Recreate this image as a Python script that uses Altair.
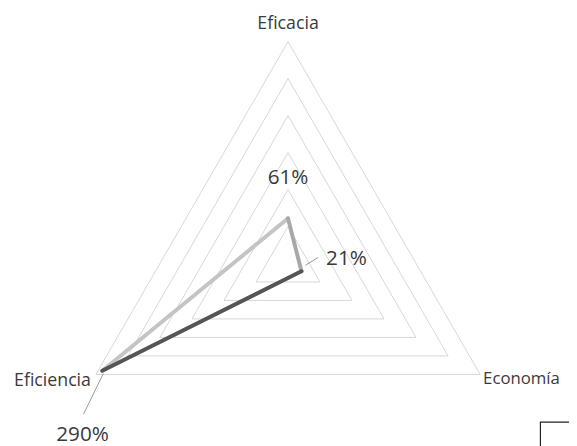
import altair as alt
import pandas as pd

# ---- data ----
axes = ["Eficacia", "Economía", "Eficiencia"]
values = [61, 21, 290]
value_labels = ["61%", "21%", "290%"]
levels = [50, 100, 150, 200, 250, 300]
max_level = 300

n = len(axes)

# grid triangles (closed)
grid_rows = []
for lv in levels:
    for k in range(n + 1):
        grid_rows.append({"level": lv, "ord": k, "idx": k % n})
grid_df = pd.DataFrame(grid_rows)

# data polygon as segments (Eficiencia -> Eficacia -> Economía -> Eficiencia)
seg_pairs = [(2, 0, "a"), (0, 1, "b"), (1, 2, "c")]
seg_df = pd.DataFrame([
    {"i1": a, "i2": b, "v1": values[a], "v2": values[b], "seg": s}
    for a, b, s in seg_pairs
])

pts_df = pd.DataFrame({"idx": list(range(n)), "axis": axes, "value": values, "label": value_labels})
ax_df = pd.DataFrame({"idx": list(range(n)), "axis": axes, "value": [max_level] * n})

W, H = 569, 438
CX, CY = 284, 256
X = alt.Scale(domain=[-CX / 0.75, (W - CX) / 0.75], nice=False, zero=False)
Y = alt.Scale(domain=[-(H - CY) / 0.75, CY / 0.75], nice=False, zero=False)

def polar(base, rfield, idxfield, xname, yname):
    return base.transform_calculate(
        **{xname: f"datum.{rfield} * sin(datum.{idxfield} * 2 * PI / {n})",
           yname: f"datum.{rfield} * cos(datum.{idxfield} * 2 * PI / {n})"}
    )

FONT = "Open Sans"
TXT = "#3a3a3a"

grid = polar(alt.Chart(grid_df), "level", "idx", "gx", "gy").mark_line(
    color="#d6d6d6", strokeWidth=1
).encode(
    x=alt.X("gx:Q", scale=X, axis=None),
    y=alt.Y("gy:Q", scale=Y, axis=None),
    detail="level:N",
    order="ord:O",
)

segs = alt.Chart(seg_df).transform_calculate(
    x1="datum.v1 * sin(datum.i1 * 2 * PI / 3)",
    y1="datum.v1 * cos(datum.i1 * 2 * PI / 3)",
    x2="datum.v2 * sin(datum.i2 * 2 * PI / 3)",
    y2="datum.v2 * cos(datum.i2 * 2 * PI / 3)",
).mark_rule(strokeWidth=4, strokeCap="round").encode(
    x=alt.X("x1:Q", scale=X, axis=None),
    y=alt.Y("y1:Q", scale=Y, axis=None),
    x2="x2:Q",
    y2="y2:Q",
    color=alt.Color("seg:N", scale=alt.Scale(domain=["a", "b", "c"],
                                               range=["#c4c4c4", "#a8a8a8", "#555555"]),
                    legend=None),
)

pts = polar(alt.Chart(pts_df), "value", "idx", "px", "py")
axl = polar(alt.Chart(ax_df), "value", "idx", "px", "py")

enc = dict(x=alt.X("px:Q", scale=X, axis=None), y=alt.Y("py:Q", scale=Y, axis=None))

# value labels
lab61 = pts.transform_filter("datum.idx == 0").mark_text(
    font=FONT, fontSize=21, color=TXT, dy=-41, align="center"
).encode(text="label:N", **enc)
lab21 = pts.transform_filter("datum.idx == 1").mark_text(
    font=FONT, fontSize=21, color=TXT, dx=25, dy=-12, align="left"
).encode(text="label:N", **enc)
lab290 = pts.transform_filter("datum.idx == 2").mark_text(
    font=FONT, fontSize=21, color=TXT, dx=-20, dy=65, align="center"
).encode(text="label:N", **enc)

# leader lines
lead21 = pts.transform_filter("datum.idx == 1").mark_rule(
    color="#999", strokeWidth=1, xOffset=4, yOffset=-6, x2Offset=17, y2Offset=-14
).encode(x2="px:Q", y2="py:Q", **enc)
lead290 = pts.transform_filter("datum.idx == 2").mark_rule(
    color="#999", strokeWidth=1, xOffset=1, yOffset=3, x2Offset=-19, y2Offset=44
).encode(x2="px:Q", y2="py:Q", **enc)

# axis (category) labels
cat0 = axl.transform_filter("datum.idx == 0").mark_text(
    font=FONT, fontSize=18, color=TXT, dy=-18, align="center"
).encode(text="axis:N", **enc)
cat1 = axl.transform_filter("datum.idx == 1").mark_text(
    font=FONT, fontSize=17, color=TXT, dx=3, dy=5, align="left"
).encode(text="axis:N", **enc)
cat2 = axl.transform_filter("datum.idx == 2").mark_text(
    font=FONT, fontSize=18, color=TXT, dx=-5, dy=7, align="right"
).encode(text="axis:N", **enc)

# partially visible legend frame at bottom-right
frame = alt.Chart(pd.DataFrame({"k": [0]})).mark_rect(
    fill=None, stroke="#222", strokeWidth=1.2
).encode(x=alt.value(540), x2=alt.value(620), y=alt.value(417), y2=alt.value(480))

chart = alt.layer(
    grid, segs, lead21, lead290, lab61, lab21, lab290, cat0, cat1, cat2, frame
).properties(
    width=W, height=H, padding=0, autosize="none", background="white"
).configure_view(stroke=None)

chart.save("out.html", embed_options={"renderer": "svg", "actions": False})
